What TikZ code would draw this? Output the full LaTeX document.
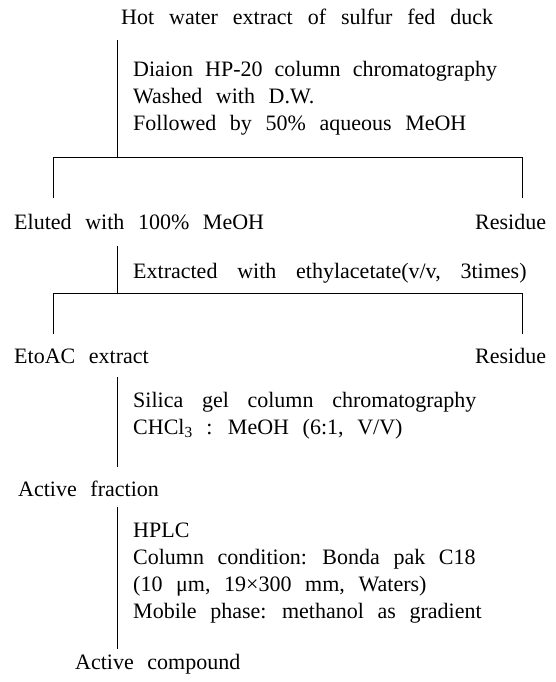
\documentclass[tikz,border=0pt]{standalone}
\usepackage{fontspec}
\setmainfont{Liberation Serif}
\usetikzlibrary{positioning}
\newcommand\wordgap[1]{\spaceskip=#1em plus 0.1em minus 0.05em\relax}
\newcommand\flowfont{\fontsize{22}{27}\selectfont\wordgap{0.62}}
\tikzset{
  txt/.style={anchor=base west, inner sep=0pt, font=\flowfont},
  steptxt/.style={txt, align=left},
  rule/.style={line width=0.8pt}
}
\begin{document}
\begin{tikzpicture}[x=1pt,y=-1pt]
    \useasboundingbox (0,0) rectangle (555,682);
    % first step: HP-20 column (base of a step text is its last line)
    \node[txt] (hot) at (121,25) {\wordgap{0.68}Hot water extract of sulfur fed duck};
    \node[steptxt] (hp20) at (133,131) {{\wordgap{0.55}Diaion HP-20 column chromatography}\\Washed with D.W.\\Followed by 50\% aqueous MeOH};
    \coordinate (s1a) at (117,40);
    \coordinate (s1b) at (117,157);
    \coordinate (l1) at (53,157);
    \coordinate (r1) at (522,157);
    \coordinate (l1e) at (53,198);
    \coordinate (r1e) at (522,198);
    \draw[rule] (s1a) -- (s1b);
    \draw[rule] (l1e) -- (l1) -- (r1) -- (r1e);
    \node[txt] (meoh) at (14,229) {Eluted with 100\% MeOH};
    \node[txt] (res1) at (475,229) {Residue};
    % second step: EtOAc
    \node[txt] (etac) at (133,278) {\wordgap{0.9}Extracted with ethylacetate(v/v, 3times)};
    \coordinate (s2a) at (117,246);
    \coordinate (s2b) at (117,293);
    \coordinate (l2) at (53,293);
    \coordinate (r2) at (522,293);
    \coordinate (l2e) at (53,334);
    \coordinate (r2e) at (522,334);
    \draw[rule] (s2a) -- (s2b);
    \draw[rule] (l2e) -- (l2) -- (r2) -- (r2e);
    \node[txt] (etoac) at (14,363) {EtoAC extract};
    \node[txt] (res2) at (475,363) {Residue};
    % third step: silica gel
    \coordinate (s3a) at (117,377);
    \coordinate (s3b) at (117,467);
    \draw[rule] (s3a) -- (s3b);
    \node[steptxt] (silica) at (133,434) {{\wordgap{0.85}Silica gel column chromatography}\\CHCl\textsubscript{3} : MeOH (6:1, V/V)};
    \node[txt] (frac) at (18,496) {Active fraction};
    % fourth step: HPLC
    \coordinate (s4a) at (117,507);
    \coordinate (s4b) at (117,649);
    \draw[rule] (s4a) -- (s4b);
    \node[steptxt] (hplc) at (133,618) {HPLC\\Column condition: Bonda pak C18\\(10 μm, 19×300 mm, Waters)\\Mobile phase: methanol as gradient};
    \node[txt] (cpd) at (75,669) {Active compound};
\end{tikzpicture}
\end{document}
